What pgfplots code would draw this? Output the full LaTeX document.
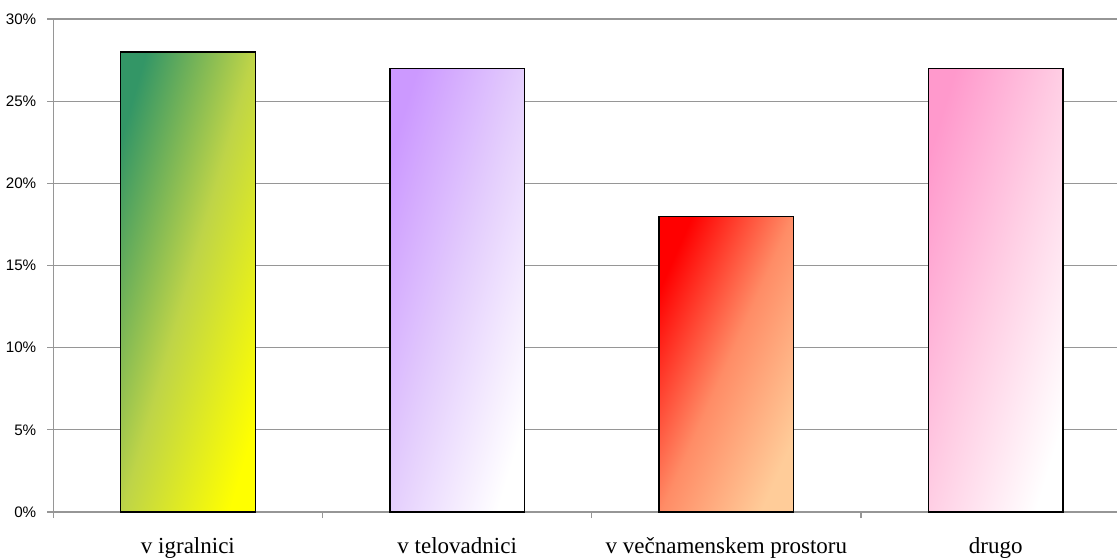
\documentclass[border=0pt]{standalone}
\usepackage{pgfplots}
\pgfplotsset{compat=1.18}
\usepackage{fontspec}
\setmainfont{Liberation Serif}
\newfontfamily\arial{Liberation Sans}
\definecolor{gridgray}{RGB}{150,150,150}
\begin{document}
\begin{tikzpicture}
\begin{axis}[
  scale only axis,
  width=538.5pt, height=246.5pt,
  xmin=-0.5, xmax=3.5,
  ymin=0, ymax=30,
  axis x line*=bottom, axis y line*=left,
  axis line style={gridgray, line width=0.6pt},
  tick align=outside,
  major tick length=3pt,
  tick style={gridgray, line width=0.6pt},
  ytick={0,5,10,15,20,25,30},
  yticklabels={0\%,5\%,10\%,15\%,20\%,25\%,30\%},
  yticklabel style={font=\arial\fontsize{7.6}{9}\selectfont, xshift=-2pt},
  ymajorgrids,
  grid style={gridgray, line width=0.6pt},
  xtick={-0.5,0.5,1.5,2.5,3.5},
  x tick label as interval,
  xticklabels={v igralnici,v telovadnici,v večnamenskem prostoru,drugo},
  xticklabel style={font=\fontsize{11.5}{13}\selectfont, yshift=-6pt},
  ybar, bar width=0.5, bar shift=0pt,
  clip=false,
]
\addplot[draw=black, line width=0.7pt, top color={rgb,255:red,51;green,150;blue,102}, bottom color={rgb,255:red,255;green,255;blue,0}, middle color={rgb,255:red,190;green,212;blue,72}, shading angle=74] coordinates {(0,28)};
\addplot[draw=black, line width=0.7pt, top color={rgb,255:red,204;green,153;blue,255}, bottom color=white, middle color={rgb,255:red,228;green,206;blue,253}, shading angle=73] coordinates {(1,27)};
\addplot[draw=black, line width=0.7pt, top color={rgb,255:red,255;green,0;blue,0}, bottom color={rgb,255:red,255;green,204;blue,153}, middle color={rgb,255:red,255;green,140;blue,102}, shading angle=66] coordinates {(2,18)};
\addplot[draw=black, line width=0.7pt, top color={rgb,255:red,255;green,153;blue,204}, bottom color=white, middle color={rgb,255:red,255;green,206;blue,228}, shading angle=73] coordinates {(3,27)};
\end{axis}
\pgfresetboundingbox
\path ([xshift=-26.65pt,yshift=-23pt]current axis.south west) rectangle ++(558.5pt,279pt);
\end{tikzpicture}
\end{document}
